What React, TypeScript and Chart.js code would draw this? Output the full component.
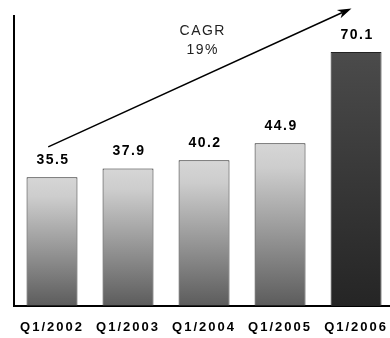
import React, { useEffect, useRef } from "react";
import { Chart, registerables } from "chart.js";

Chart.register(...registerables);

const categories = ["Q1/2002", "Q1/2003", "Q1/2004", "Q1/2005", "Q1/2006"];
const values = [35.5, 37.9, 40.2, 44.9, 70.1];
const valueLabels = ["35.5", "37.9", "40.2", "44.9", "70.1"];
const highlightIndex = 4;
const yMax = 80;
const cagrLines = ["CAGR", "19%"];
const cagrLineValues = [75.7, 70.6];
const cagrIndex = 1.97;
const arrowStart = [-0.05, 43.9];
const arrowEnd = [3.94, 82.1];

const FONT = "'Liberation Sans', Arial, sans-serif";

function barFill(ctx: any) {
  const chart = ctx.chart;
  const area = chart.chartArea;
  const i = ctx.dataIndex;
  const hi = i === highlightIndex;
  if (!area || ctx.raw === undefined) return hi ? "#383838" : "#a0a0a0";
  const y = chart.scales.y;
  const top = y.getPixelForValue(ctx.raw);
  const bottom = y.getPixelForValue(0);
  const g = chart.ctx.createLinearGradient(0, top, 0, bottom);
  if (hi) {
    g.addColorStop(0, "#4b4b4b");
    g.addColorStop(1, "#252525");
  } else {
    g.addColorStop(0, "#d6d6d6");
    g.addColorStop(0.15, "#cdcdcd");
    g.addColorStop(1, "#5c5c5c");
  }
  return g;
}

const annotationPlugin = {
  id: "annotations",
  beforeDraw(chart: any) {
    (chart.ctx as any).letterSpacing = "2px";
  },
  afterDatasetsDraw(chart: any) {
    const ctx = chart.ctx;
    const xs = chart.scales.x;
    const ys = chart.scales.y;
    const meta = chart.getDatasetMeta(0);
    ctx.save();
    // value labels
    ctx.font = `bold 14px ${FONT}`;
    (ctx as any).letterSpacing = "1.5px";
    ctx.fillStyle = "#000";
    ctx.textAlign = "center";
    ctx.textBaseline = "middle";
    meta.data.forEach((el: any, i: number) => {
      ctx.fillText(valueLabels[i], el.x + 1, el.y - 17);
    });
    // CAGR text
    ctx.font = `14px ${FONT}`;
    (ctx as any).letterSpacing = "1.5px";
    ctx.fillStyle = "#222";
    cagrLines.forEach((t, k) => {
      ctx.fillText(t, xs.getPixelForValue(cagrIndex) + 1, ys.getPixelForValue(cagrLineValues[k]));
    });
    // arrow
    const x1 = xs.getPixelForValue(arrowStart[0]);
    const y1 = ys.getPixelForValue(arrowStart[1]);
    const x2 = xs.getPixelForValue(arrowEnd[0]);
    const y2 = ys.getPixelForValue(arrowEnd[1]);
    const ang = Math.atan2(y2 - y1, x2 - x1);
    const len = 14;
    const half = 4.5;
    const notch = 10;
    const bx = x2 - Math.cos(ang) * notch;
    const by = y2 - Math.sin(ang) * notch;
    ctx.strokeStyle = "#000";
    ctx.lineWidth = 1.5;
    ctx.beginPath();
    ctx.moveTo(x1, y1);
    ctx.lineTo(bx, by);
    ctx.stroke();
    const px = -Math.sin(ang);
    const py = Math.cos(ang);
    const cx = x2 - Math.cos(ang) * len;
    const cy = y2 - Math.sin(ang) * len;
    ctx.fillStyle = "#000";
    ctx.beginPath();
    ctx.moveTo(x2, y2);
    ctx.lineTo(cx + px * half, cy + py * half);
    ctx.lineTo(bx, by);
    ctx.lineTo(cx - px * half, cy - py * half);
    ctx.closePath();
    ctx.fill();
    ctx.restore();
  },
};

export default function App() {
  const ref = useRef<HTMLCanvasElement | null>(null);
  useEffect(() => {
    if (!ref.current) return;
    const chart = new Chart(ref.current, {
      type: "bar",
      data: {
        labels: categories,
        datasets: [
          {
            data: values,
            backgroundColor: barFill as any,
            borderColor: "#222",
            borderWidth: 1,
            borderSkipped: false,
            categoryPercentage: 1,
            barPercentage: 0.67,
          },
        ],
      },
      options: {
        responsive: false,
        animation: false,
        events: [],
        layout: { padding: { left: 0, right: 0, top: 16, bottom: 0 } },
        plugins: { legend: { display: false }, tooltip: { enabled: false } },
        scales: {
          x: {
            grid: { display: false, drawTicks: false },
            border: { display: true, color: "#000", width: 2 },
            ticks: {
              color: "#000",
              font: { family: FONT, size: 13, weight: "bold" },
              padding: 14,
              maxRotation: 0,
              autoSkip: false,
            },
            afterFit: (s: any) => {
              s.height = 32;
            },
          },
          y: {
            min: 0,
            max: yMax,
            grid: { display: false, drawTicks: false },
            border: { display: true, color: "#000", width: 2 },
            ticks: { display: false },
            afterFit: (s: any) => {
              s.width = 14;
            },
          },
        },
      },
      plugins: [annotationPlugin],
    });
    return () => chart.destroy();
  }, []);
  return (
    <div
      style={{
        position: "absolute",
        left: 0,
        top: 0,
        width: 390,
        height: 338,
        overflow: "hidden",
        background: "#fff",
      }}
    >
      <canvas ref={ref} width={395} height={338} style={{ width: 395, height: 338, display: "block" }} />
    </div>
  );
}
